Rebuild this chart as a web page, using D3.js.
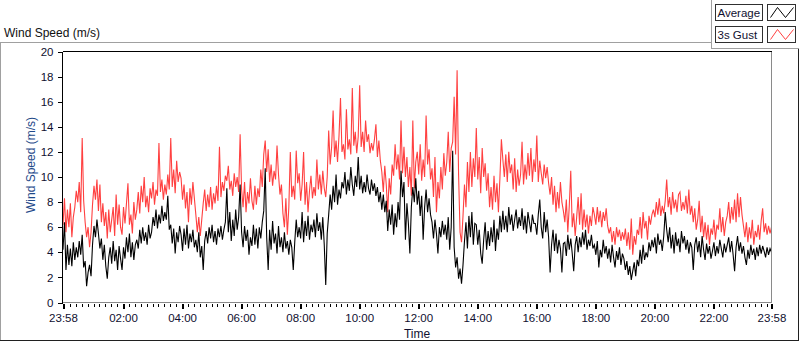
<!DOCTYPE html>
<html><head><meta charset="utf-8">
<script src="https://cdn.jsdelivr.net/npm/d3@7"></script>
<style>
html,body{margin:0;padding:0;background:#fff;}
svg{display:block;font-family:"Liberation Sans",Arial,sans-serif;}
</style></head><body>
<svg id="chart" width="800" height="342"></svg>
<script>
// ---------------- data ----------------
const chartTitle = "Wind Speed (m/s)";
const yAxisTitle = "Wind Speed (m/s)";
const xAxisTitle = "Time";
const seriesNames = ["Average", "3s Gust"];
const startLabel = "23:58";
const sampleMinutes = 3;
const xTickLabels = ["23:58","02:00","04:00","06:00","08:00","10:00","12:00","14:00","16:00","18:00","20:00","22:00","23:58"];
const yTickValues = [0,2,4,6,8,10,12,14,16,18,20];

const gust = [
 6.2,8.3,5.6,7.4,6.0,7.9,5.2,6.8,7.6,8.9, 8.0,9.6,7.2,13.1,8.1,6.4,5.2,6.0,4.4,5.6, 7.8,9.3,8.2,9.8,7.3,9.4,6.4,7.9,6.1,7.2, 5.1,7.4,5.6,6.6,7.6,5.3,8.6,6.2,7.8,6.0,
 5.4,7.6,6.3,7.9,9.5,6.2,7.0,5.5,8.0,6.6, 7.4,8.8,7.1,9.3,8.0,10.0,7.6,8.5,7.2,9.1, 8.3,9.6,7.8,9.0,8.5,12.7,8.8,9.8,8.2,9.4, 8.6,10.2,9.0,13.1,9.2,10.6,8.7,11.3,9.6,10.4,
 9.9,8.2,9.4,7.5,8.8,6.4,9.1,7.8,9.6,8.3, 7.0,5.6,6.8,5.3,6.6,7.9,9.0,7.3,8.6,7.6, 9.2,7.4,8.7,7.9,9.3,8.1,12.4,8.4,9.6,8.9, 10.1,9.7,10.9,9.0,9.7,8.5,10.3,9.2,10.0,8.8,
 13.4,9.0,7.6,9.6,7.2,8.8,7.9,9.9,8.1,7.4, 9.3,7.8,9.1,8.4,10.6,9.2,11.8,12.9,10.4,12.2, 9.6,11.0,9.3,10.5,9.8,12.5,10.2,8.6,9.4,7.1, 6.0,8.3,5.4,7.6,12.0,8.4,9.3,8.2,12.1,9.5,
 10.3,8.1,9.4,12.0,7.8,9.6,7.2,8.9,10.1,8.3, 9.2,8.5,11.4,9.0,10.2,8.6,10.5,9.1,8.4,10.0, 13.7,11.0,12.4,15.3,11.6,12.9,11.2,13.3,16.3,12.0, 12.6,11.4,15.4,12.2,13.0,11.8,17.1,12.5,13.6,11.9,
 13.2,17.3,12.4,13.6,12.0,14.5,12.8,13.4,11.9,12.7, 12.1,13.0,14.2,11.6,12.9,11.3,10.4,8.8,10.9,9.4, 7.2,9.9,8.6,11.0,10.1,12.6,10.6,11.8,9.8,14.5, 10.3,12.4,10.0,11.6,9.2,10.8,8.5,14.5,9.1,11.2,
 12.0,10.2,12.6,9.7,11.4,10.0,14.9,11.0,12.2,9.8, 10.7,8.4,11.6,7.2,9.6,8.3,10.8,9.0,11.9,10.1, 11.2,13.6,10.4,12.3,12.8,16.4,11.8,18.5,10.2,5.6, 4.8,6.9,9.4,7.6,11.2,8.8,12.0,9.2,11.5,10.0,
 13.9,9.8,11.6,8.7,12.3,10.0,11.1,8.9,10.3,7.6, 9.2,7.4,10.1,8.0,9.5,7.2,9.9,13.0,11.4,10.0, 11.8,9.6,12.0,10.3,11.0,9.0,11.5,8.8,10.6,9.3, 10.2,12.8,9.4,11.0,9.8,11.9,10.1,12.3,9.6,11.4,
 10.4,13.3,9.6,11.3,10.3,9.4,11.0,9.9,10.8,9.5, 8.6,10.0,7.8,9.3,7.2,8.8,7.5,9.6,8.0,7.3, 6.4,8.2,5.6,7.7,10.5,6.0,7.1,5.3,6.8,8.4, 6.2,8.7,5.8,7.4,6.0,7.0,5.5,6.9,6.1,7.6,
 7.0,6.2,7.6,6.4,7.3,6.0,7.2,6.5,7.5,6.1, 5.5,6.0,4.8,5.7,4.6,6.0,5.2,5.8,4.9,5.6, 5.0,5.9,4.5,5.6,4.2,6.7,3.8,5.3,4.6,5.8, 5.4,6.8,5.1,7.2,5.9,6.5,5.0,6.9,6.2,7.0,
 7.4,6.8,8.0,7.0,8.3,6.9,7.7,7.1,8.1,9.8, 7.6,8.4,7.0,8.8,7.5,8.2,7.2,8.6,8.8,7.3, 8.0,7.4,8.5,7.1,9.0,7.0,7.7,6.4,7.5,5.8, 6.6,8.1,5.6,6.9,5.2,6.4,5.0,6.2,4.6,5.9,
 5.4,6.6,5.0,6.2,5.8,7.5,5.6,6.8,5.3,6.4, 6.9,8.0,6.3,7.6,6.6,8.2,6.4,8.7,6.8,8.4, 7.0,6.1,5.2,6.4,4.8,6.0,5.1,6.6,4.6,5.7, 5.2,6.2,5.0,6.5,7.5,5.6,6.3,5.4,6.1,5.5,6.0
];

const average = [
 4.2,6.4,2.6,4.6,3.0,4.3,2.9,4.8,3.4,4.4, 3.6,4.9,3.8,5.4,2.8,3.3,1.3,2.4,3.0,2.1, 4.6,6.1,5.2,6.6,5.5,4.3,5.1,3.4,4.6,2.9, 1.9,3.6,4.4,3.1,4.9,3.3,4.2,2.6,4.5,3.5,
 2.6,4.4,3.5,5.2,4.0,5.5,3.6,4.8,3.4,4.6, 5.0,4.3,5.8,4.7,6.0,4.9,5.6,4.6,6.2,5.1, 5.6,6.8,6.1,7.4,5.9,7.0,6.3,7.7,6.5,7.2, 6.6,8.5,5.8,6.2,4.7,5.9,3.9,5.6,4.8,6.1,
 5.4,4.1,5.9,4.6,6.2,4.3,5.5,4.8,5.8,4.4, 5.0,4.0,5.6,3.6,4.5,2.6,4.9,5.7,4.7,6.0, 5.1,6.2,4.8,5.7,4.6,5.9,5.2,6.1,5.0,5.8, 6.4,9.1,5.6,7.2,4.9,6.6,5.3,7.4,5.8,6.8,
 9.4,5.6,4.4,6.1,4.9,5.8,3.8,5.2,4.5,6.2, 4.6,5.9,4.3,6.0,5.1,6.4,7.3,10.7,5.2,2.6, 5.8,4.2,6.5,4.7,5.5,3.9,6.1,4.4,5.2,4.0, 5.6,4.3,4.9,3.8,5.0,4.4,2.6,4.8,6.6,5.2,
 6.0,5.1,7.2,4.8,6.5,5.3,6.9,5.0,6.2,5.6, 6.6,5.2,7.1,5.7,6.4,5.0,6.8,4.6,1.4,5.5, 7.0,8.6,7.4,9.3,8.0,10.2,7.8,9.0,8.3,9.6, 9.1,10.4,8.6,9.8,8.9,10.8,9.4,8.5,10.1,9.2,
 11.6,9.0,10.1,8.7,9.6,8.8,10.2,9.1,8.6,9.8, 8.9,9.5,8.5,9.2,8.0,8.8,7.4,8.6,7.2,8.1, 5.7,7.4,6.2,7.8,5.4,7.1,6.0,8.0,6.6,10.5, 8.4,9.6,5.0,7.9,6.3,3.9,7.6,9.2,8.0,9.9,
 7.8,8.9,6.9,8.5,5.0,7.6,9.0,7.2,8.3,7.0, 6.4,5.1,6.6,5.5,3.9,6.0,5.2,6.5,5.4,6.2, 5.0,6.8,4.2,6.0,12.1,4.4,2.8,3.6,1.9,2.7, 1.5,3.0,4.9,6.4,4.3,6.9,5.2,7.2,4.6,6.3,
 6.2,4.6,5.8,3.9,3.1,5.0,6.4,4.2,5.7,4.5, 6.0,4.8,6.6,4.1,5.9,5.0,6.9,5.6,7.3,5.8, 6.9,5.6,7.6,6.2,7.0,5.7,6.6,7.4,5.9,6.8, 6.1,7.5,5.8,6.9,5.5,7.2,6.4,5.6,7.0,6.3,
 6.3,5.4,7.0,8.2,6.0,5.1,7.2,5.6,6.6,5.2, 2.4,4.6,5.8,4.1,5.5,3.9,5.0,4.3,2.4,4.7, 4.8,3.7,5.4,4.2,5.1,3.9,2.5,4.6,5.3,4.0, 5.2,4.4,5.6,4.6,5.8,4.2,5.0,4.5,5.4,4.3,
 4.6,3.8,4.9,2.8,4.2,3.6,5.0,3.9,4.5,3.5, 4.3,3.2,4.6,3.6,2.8,4.1,3.4,4.4,3.0,3.9, 3.5,2.6,3.3,2.2,2.9,1.8,2.5,3.2,2.1,3.4, 2.9,4.2,3.1,4.6,3.4,4.0,3.6,4.8,4.1,5.0,
 4.4,5.2,3.9,5.5,4.6,5.0,4.1,5.3,7.2,5.8, 4.8,6.0,4.3,5.4,3.9,5.6,4.5,5.1,4.0,5.7, 4.7,5.3,4.2,5.0,3.9,4.8,4.4,2.6,4.6,5.2, 4.0,4.9,3.6,5.3,4.2,3.4,4.7,3.9,4.5,3.5,
 4.1,4.8,3.7,4.5,3.9,5.0,4.3,3.6,4.7,4.0, 4.6,5.2,4.0,4.9,3.8,2.5,4.4,5.3,4.1,4.8, 3.9,4.5,3.6,3.0,4.2,3.5,4.6,3.8,4.3,3.4, 4.4,3.7,4.6,3.9,4.5,4.1,3.6,4.4,3.8,4.3,4.0
];

// ---------------- chart ----------------
const svg = d3.select("#chart");
const W = 800, H = 342;
const plot = {left: 62.5, right: 771.5, top: 51.5, bottom: 302.5};

const [sh, sm] = startLabel.split(":").map(Number);
const start = new Date(2020, 0, 1, sh, sm);
const totalMin = (average.length - 1) * sampleMinutes;
const end = new Date(+start + totalMin * 60000);
const timeAt = i => new Date(+start + i * sampleMinutes * 60000);

const x = d3.scaleTime().domain([start, end]).range([63, 771.5]);
const y = d3.scaleLinear().domain([0, 20]).range([plot.bottom, plot.top]);

const majorDates = xTickLabels.map((lab, i) => {
  if (i === 0) return start;
  if (i === xTickLabels.length - 1) return end;
  const [h, m] = lab.split(":").map(Number);
  return new Date(2020, 0, 2, h, m);
});
const minorDates = d3.timeMinute.every(12).range(start, end)
  .filter(d => majorDates.every(M => Math.abs(d - M) > 6 * 60000));

// outer panel
const g0 = svg.append("g").attr("shape-rendering", "crispEdges");
g0.append("rect").attr("x", 0).attr("y", 0).attr("width", W).attr("height", H).attr("fill", "#fff");
g0.append("line").attr("x1", 0).attr("x2", 711.5).attr("y1", 42.5).attr("y2", 42.5).attr("stroke", "#a0a0a0");
g0.append("line").attr("x1", 0.5).attr("x2", 0.5).attr("y1", 42.5).attr("y2", 340).attr("stroke", "#a0a0a0");
g0.append("line").attr("x1", 0).attr("x2", 798).attr("y1", 340.5).attr("y2", 340.5).attr("stroke", "#202020");
g0.append("line").attr("x1", 798.5).attr("x2", 798.5).attr("y1", 48).attr("y2", 341).attr("stroke", "#202020");
// legend container
g0.append("line").attr("x1", 711.5).attr("x2", 711.5).attr("y1", 0).attr("y2", 48.5).attr("stroke", "#a0a0a0");
g0.append("line").attr("x1", 711.5).attr("x2", 799).attr("y1", 48.5).attr("y2", 48.5).attr("stroke", "#a0a0a0");

// title
svg.append("text").attr("x", 4).attr("y", 36.5).attr("font-size", 12).attr("fill", "#111")
  .text(chartTitle);

// plot background
svg.append("rect").attr("x", plot.left).attr("y", plot.top)
  .attr("width", plot.right - plot.left).attr("height", plot.bottom - plot.top).attr("fill", "#fff");

// clip
svg.append("clipPath").attr("id", "clip").append("rect")
  .attr("x", plot.left).attr("y", plot.top).attr("width", plot.right - plot.left).attr("height", plot.bottom - plot.top);

const line = d3.line().x((d, i) => x(timeAt(i))).y(d => y(d));
const pg = svg.append("g").attr("clip-path", "url(#clip)");
pg.append("path").datum(gust).attr("d", line).attr("fill", "none").attr("stroke", "#ff4040").attr("stroke-width", 1.1);
pg.append("path").datum(average).attr("d", line).attr("fill", "none").attr("stroke", "#000").attr("stroke-width", 1.1);

// frame
const fr = svg.append("g").attr("shape-rendering", "crispEdges");
fr.append("line").attr("x1", plot.left).attr("x2", plot.right).attr("y1", plot.top).attr("y2", plot.top).attr("stroke", "#000");
fr.append("line").attr("x1", plot.left).attr("x2", plot.left).attr("y1", plot.top).attr("y2", plot.bottom).attr("stroke", "#000");
fr.append("line").attr("x1", plot.right).attr("x2", plot.right).attr("y1", plot.top).attr("y2", plot.bottom).attr("stroke", "#8a8a8a");
fr.append("line").attr("x1", plot.left).attr("x2", plot.right).attr("y1", plot.bottom).attr("y2", plot.bottom).attr("stroke", "#8a8a8a");

// y axis
const yAxis = svg.append("g").attr("transform", `translate(${plot.left},0)`)
  .call(d3.axisLeft(y).tickValues(yTickValues).tickSize(5).tickPadding(4).tickFormat(d3.format("d")));
yAxis.select(".domain").remove();
yAxis.selectAll("line").attr("stroke", "#000").attr("shape-rendering", "crispEdges");
yAxis.selectAll("text").attr("font-size", 11.5).attr("fill", "#101030").attr("font-family", "Liberation Sans, Arial, sans-serif");

// x axis minor
const xMinor = svg.append("g").attr("transform", `translate(0,${plot.bottom + 1})`)
  .call(d3.axisBottom(x).tickValues(minorDates).tickSize(3).tickFormat(""));
xMinor.select(".domain").remove();
xMinor.selectAll("line").attr("stroke", "#000").attr("shape-rendering", "crispEdges");
// x axis major
const xMajor = svg.append("g").attr("transform", `translate(0,${plot.bottom + 1})`)
  .call(d3.axisBottom(x).tickValues(majorDates).tickSize(5).tickPadding(5)
    .tickFormat((d, i) => xTickLabels[i]));
xMajor.select(".domain").remove();
xMajor.selectAll("line").attr("stroke", "#000").attr("stroke-width", 2).attr("shape-rendering", "crispEdges");
xMajor.selectAll("text").attr("font-size", 11.5).attr("fill", "#101030").attr("font-family", "Liberation Sans, Arial, sans-serif");

// axis titles
svg.append("text").attr("x", (plot.left + plot.right) / 2).attr("y", 337.5).attr("text-anchor", "middle")
  .attr("font-size", 12).attr("fill", "#101030").text(xAxisTitle);
svg.append("text").attr("transform", `translate(35,${(plot.top + plot.bottom) / 2 - 12}) rotate(-90)`)
  .attr("text-anchor", "middle").attr("font-size", 12).attr("fill", "#1f4a8a").text(yAxisTitle);

// legend
const legColors = ["#000", "#ff4040"];
const lg = svg.append("g");
seriesNames.forEach((name, i) => {
  const top = 4.5 + i * 22;
  lg.append("rect").attr("x", 715.5).attr("y", top).attr("width", 47).attr("height", 16)
    .attr("fill", "#fff").attr("stroke", "#303030").attr("shape-rendering", "crispEdges");
  lg.append("text").attr("x", 717.5).attr("y", top + 12.5).attr("font-size", 11.5).attr("fill", "#101030").text(name);
  lg.append("rect").attr("x", 767.5).attr("y", top).attr("width", 28).attr("height", 16)
    .attr("fill", "#fff").attr("stroke", "#303030").attr("shape-rendering", "crispEdges");
  const pts = [[3, 13], [10, 3], [18, 13], [26, 3]];
  lg.append("path").attr("d", d3.line()(pts.map(p => [767.5 + p[0], top + p[1]])))
    .attr("fill", "none").attr("stroke", legColors[i]).attr("stroke-width", 1);
});
</script>
</body></html>
